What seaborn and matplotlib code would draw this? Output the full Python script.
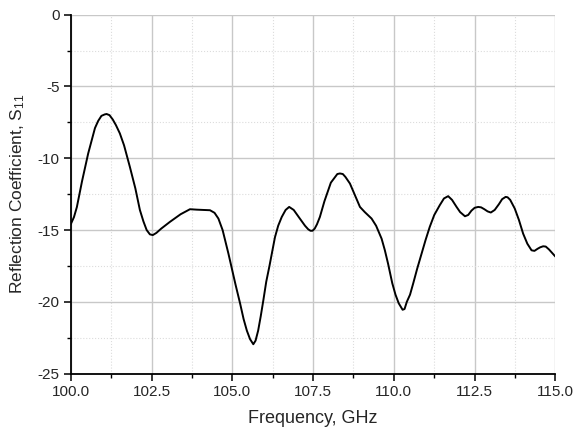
import matplotlib
matplotlib.use("Agg")
import matplotlib.pyplot as plt
import seaborn as sns
import pandas as pd
from matplotlib.ticker import MultipleLocator, FormatStrFormatter

# Reflection coefficient
freq = [100.0, 100.1, 100.19, 100.35, 100.54, 100.75, 100.85, 100.95, 101.05, 101.11,
        101.2, 101.3, 101.4, 101.52, 101.65, 101.83, 102.0, 102.14, 102.25, 102.35,
        102.45, 102.54, 102.65, 102.8, 103.07, 103.4, 103.69, 103.9, 104.1, 104.31,
        104.45, 104.57, 104.7, 104.88, 105.1, 105.24, 105.35, 105.45, 105.55, 105.65,
        105.72, 105.8, 105.88, 105.96, 106.05, 106.15, 106.32, 106.42, 106.53, 106.65,
        106.76, 106.9, 107.09, 107.25, 107.35, 107.42, 107.48, 107.55, 107.62, 107.71,
        107.85, 107.97, 108.05, 108.15, 108.25, 108.33, 108.42, 108.5, 108.64, 108.8,
        108.95, 109.1, 109.31, 109.45, 109.62, 109.72, 109.82, 109.95, 110.05, 110.15,
        110.27, 110.33, 110.4, 110.5, 110.6, 110.72, 110.85, 110.98, 111.11, 111.25,
        111.42, 111.55, 111.68, 111.8, 111.94, 112.05, 112.2, 112.3, 112.4, 112.5,
        112.61, 112.7, 112.8, 112.9, 113.0, 113.12, 113.25, 113.35, 113.46, 113.52,
        113.6, 113.74, 113.87, 114.0, 114.13, 114.26, 114.35, 114.45, 114.53, 114.62,
        114.7, 114.8, 114.9, 115.0]
s11 = [-14.6, -14.1, -13.4, -11.6, -9.67, -7.9, -7.4, -7.05, -6.95, -6.92,
       -7.0, -7.3, -7.7, -8.27, -9.1, -10.6, -12.1, -13.6, -14.4, -15.0,
       -15.3, -15.35, -15.2, -14.9, -14.43, -13.9, -13.55, -13.58, -13.6, -13.62,
       -13.8, -14.2, -15.0, -16.64, -18.8, -20.1, -21.2, -22.0, -22.6, -22.95,
       -22.7, -22.0, -21.0, -19.9, -18.6, -17.5, -15.5, -14.7, -14.09, -13.6,
       -13.39, -13.6, -14.2, -14.7, -14.95, -15.05, -15.05, -14.9, -14.6, -14.09,
       -13.0, -12.22, -11.7, -11.4, -11.1, -11.06, -11.1, -11.3, -11.76, -12.6,
       -13.39, -13.75, -14.2, -14.7, -15.6, -16.4, -17.34, -18.7, -19.5, -20.1,
       -20.55, -20.5, -20.0, -19.5, -18.7, -17.7, -16.7, -15.7, -14.78, -13.95,
       -13.27, -12.8, -12.64, -12.9, -13.39, -13.75, -14.04, -13.95, -13.65, -13.45,
       -13.39, -13.42, -13.55, -13.7, -13.78, -13.6, -13.2, -12.85, -12.69, -12.72,
       -12.9, -13.5, -14.3, -15.25, -15.95, -16.41, -16.45, -16.3, -16.2, -16.13,
       -16.15, -16.35, -16.6, -16.85]

df = pd.DataFrame({"freq": freq, "s11": s11})

sns.set_style("white")
plt.rcParams['font.family'] = ['Liberation Sans', 'DejaVu Sans']
plt.rcParams['mathtext.fontset'] = 'custom'
plt.rcParams['mathtext.rm'] = 'Liberation Sans'
plt.rcParams['mathtext.it'] = 'Liberation Sans'

fig = plt.figure(figsize=(5.75, 4.3), dpi=100)
ax = fig.add_axes([0.123, 0.131, 0.843, 0.835])

sns.lineplot(data=df, x="freq", y="s11", color="black", linewidth=1.4, ax=ax)

ax.set_xlim(100, 115)
ax.set_ylim(-25, 0)
ax.xaxis.set_major_locator(MultipleLocator(2.5))
ax.xaxis.set_minor_locator(MultipleLocator(1.25))
ax.yaxis.set_major_locator(MultipleLocator(5))
ax.yaxis.set_minor_locator(MultipleLocator(2.5))
ax.xaxis.set_major_formatter(FormatStrFormatter('%.1f'))
ax.yaxis.set_major_formatter(FormatStrFormatter('%d'))

ax.grid(which='major', color='#c8c8c8', linewidth=1.0, linestyle='-')
ax.grid(which='minor', color='#dcdcdc', linewidth=0.8, linestyle=':')
ax.set_axisbelow(True)

for side in ['top', 'right']:
    ax.spines[side].set_visible(False)
for side in ['left', 'bottom']:
    ax.spines[side].set_color('black')
    ax.spines[side].set_linewidth(1.3)

ax.tick_params(which='major', direction='out', length=5, width=1.1, color='black',
               labelsize=11, bottom=True, left=True, pad=3)
ax.tick_params(which='minor', direction='out', length=3, width=1.0, color='black',
               bottom=True, left=True)

ax.set_xlabel("Frequency, GHz", fontsize=13, labelpad=8)
ax.set_ylabel("Reflection Coefficient, S$_{11}$", fontsize=12.5, labelpad=8)

fig.savefig("out.png", dpi=100)
